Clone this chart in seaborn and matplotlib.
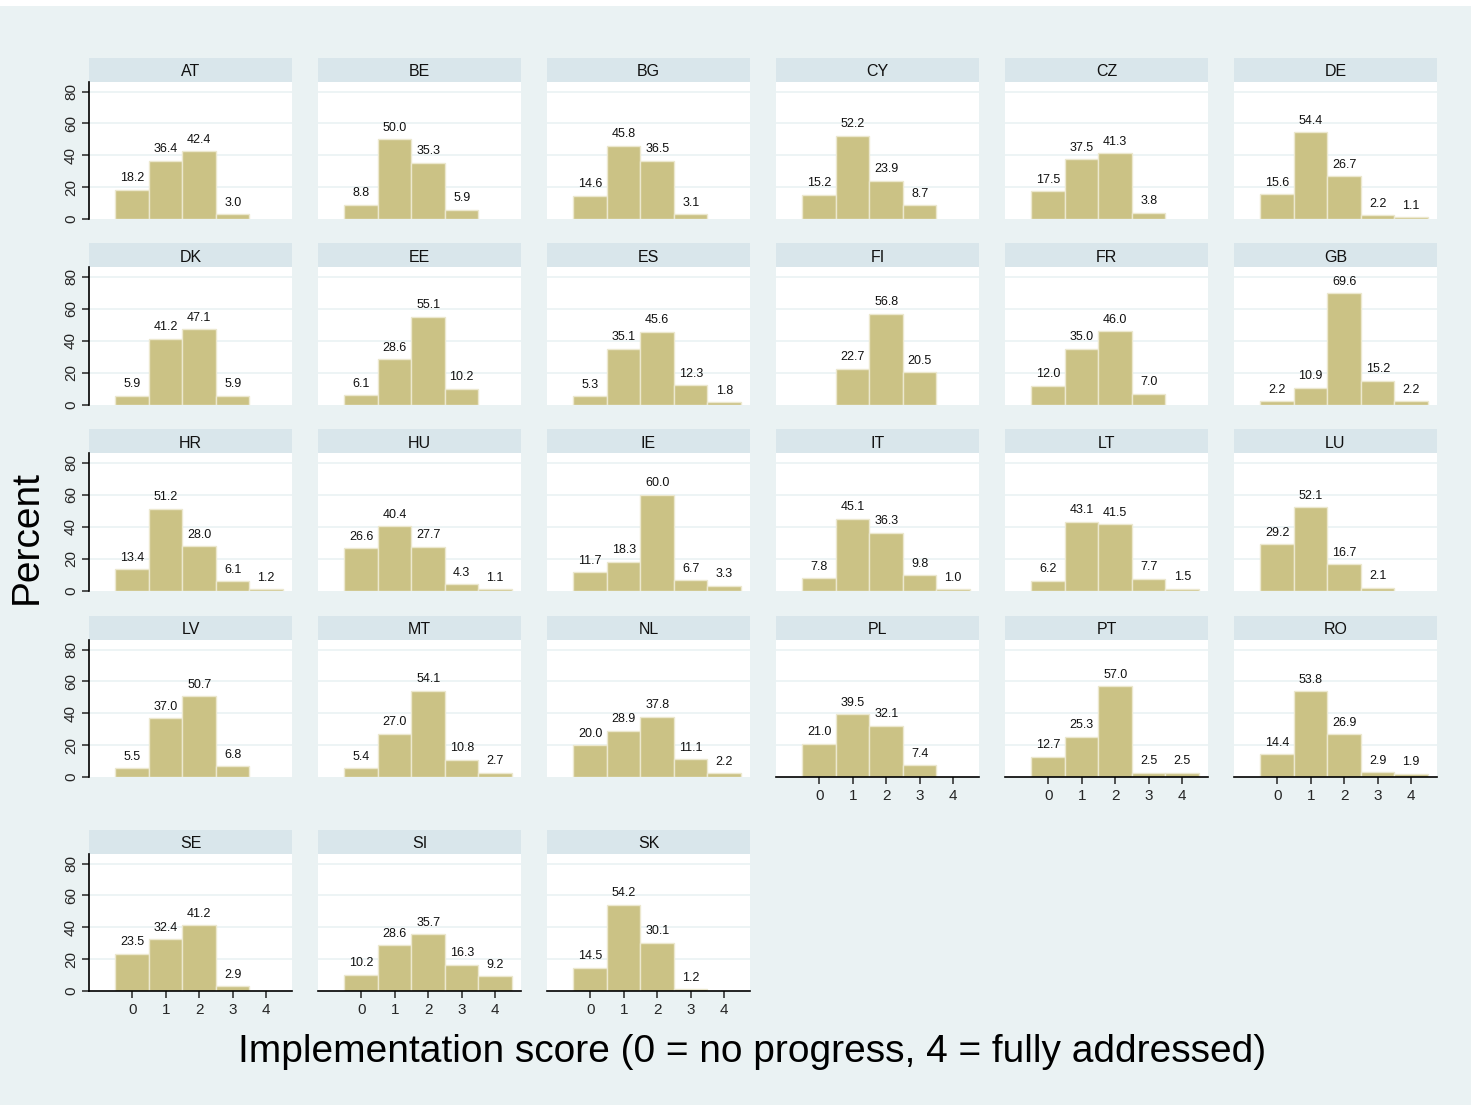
import matplotlib
matplotlib.use("Agg")
import matplotlib.pyplot as plt
from matplotlib.patches import Rectangle
import seaborn as sns

# --- data: percent of recommendations per implementation score (0..4), None = no bar ---
COUNTRIES = ["AT", "BE", "BG", "CY", "CZ", "DE",
             "DK", "EE", "ES", "FI", "FR", "GB",
             "HR", "HU", "IE", "IT", "LT", "LU",
             "LV", "MT", "NL", "PL", "PT", "RO",
             "SE", "SI", "SK"]
SCORES = [0, 1, 2, 3, 4]

AT = [18.2, 36.4, 42.4, 3.0, None]
BE = [8.8, 50.0, 35.3, 5.9, None]
BG = [14.6, 45.8, 36.5, 3.1, None]
CY = [15.2, 52.2, 23.9, 8.7, None]
CZ = [17.5, 37.5, 41.3, 3.8, None]
DE = [15.6, 54.4, 26.7, 2.2, 1.1]
DK = [5.9, 41.2, 47.1, 5.9, None]
EE = [6.1, 28.6, 55.1, 10.2, None]
ES = [5.3, 35.1, 45.6, 12.3, 1.8]
FI = [None, 22.7, 56.8, 20.5, None]
FR = [12.0, 35.0, 46.0, 7.0, None]
GB = [2.2, 10.9, 69.6, 15.2, 2.2]
HR = [13.4, 51.2, 28.0, 6.1, 1.2]
HU = [26.6, 40.4, 27.7, 4.3, 1.1]
IE = [11.7, 18.3, 60.0, 6.7, 3.3]
IT = [7.8, 45.1, 36.3, 9.8, 1.0]
LT = [6.2, 43.1, 41.5, 7.7, 1.5]
LU = [29.2, 52.1, 16.7, 2.1, None]
LV = [5.5, 37.0, 50.7, 6.8, None]
MT = [5.4, 27.0, 54.1, 10.8, 2.7]
NL = [20.0, 28.9, 37.8, 11.1, 2.2]
PL = [21.0, 39.5, 32.1, 7.4, None]
PT = [12.7, 25.3, 57.0, 2.5, 2.5]
RO = [14.4, 53.8, 26.9, 2.9, 1.9]
SE = [23.5, 32.4, 41.2, 2.9, None]
SI = [10.2, 28.6, 35.7, 16.3, 9.2]
SK = [14.5, 54.2, 30.1, 1.2, None]

VALUES = [AT, BE, BG, CY, CZ, DE, DK, EE, ES, FI, FR, GB, HR, HU, IE,
          IT, LT, LU, LV, MT, NL, PL, PT, RO, SE, SI, SK]

Y_TICKS = [0, 20, 40, 60, 80]

# --- style ---
BG_COL = "#eaf2f3"
STRIP_COL = "#d9e6eb"
BAR_COL = "#cbc285"
EDGE_COL = "#ece8cf"

W, H = 1471, 1105
COL_LEFT = [89, 318, 547, 776, 1005, 1234]
PANEL_W = 203
ROW_BOX = [(82, 219), (267, 405), (453, 591), (640, 777), (854, 991)]
STRIP_H = 24

sns.set_style("white")
plt.rcParams["font.family"] = ["Liberation Sans", "DejaVu Sans"]

fig = plt.figure(figsize=(W / 100, H / 100), dpi=100)
fig.patch.set_facecolor(BG_COL)
fig.patches.append(Rectangle((0, 1 - 6 / H), 1, 6 / H, transform=fig.transFigure,
                             facecolor="white", edgecolor="none", zorder=0))

# panels that carry the x axis (bottom of their column)
x_axis_panels = {"PL", "PT", "RO", "SE", "SI", "SK"}

for i, (name, vals) in enumerate(zip(COUNTRIES, VALUES)):
    r, c = divmod(i, 6)
    top, bot = ROW_BOX[r]
    ax = fig.add_axes([COL_LEFT[c] / W, 1 - bot / H, PANEL_W / W, (bot - top) / H])
    ax.set_facecolor("white")

    xs = [s for s, v in zip(SCORES, vals) if v is not None]
    ws = [v for v in vals if v is not None]
    sns.histplot(x=xs, weights=ws, discrete=True, ax=ax, color=BAR_COL,
                 edgecolor=EDGE_COL, linewidth=1, alpha=1, zorder=2)
    for s, v in zip(xs, ws):
        ax.annotate(f"{v:.1f}", (s, v), xytext=(0, 4), textcoords="offset points",
                    ha="center", va="bottom", fontsize=9, color="#111111", zorder=3)

    ax.set_xlim(-1.29, 4.77)
    ax.set_ylim(0, 86)
    ax.set_yticks(Y_TICKS)
    ax.set_xticks(SCORES)
    for y in Y_TICKS[1:]:
        ax.axhline(y, color=BG_COL, linewidth=1.2, zorder=1)
    ax.set_xlabel("")
    ax.set_ylabel("")

    for side in ["top", "right"]:
        ax.spines[side].set_visible(False)

    if c == 0:
        ax.spines["left"].set_visible(True)
        ax.spines["left"].set_color("black")
        ax.spines["left"].set_linewidth(1.2)
        ax.tick_params(axis="y", left=True, direction="out", length=5, width=1.1,
                       labelsize=11, pad=3)
        for lab in ax.get_yticklabels():
            lab.set_rotation(90)
            lab.set_va("center")
    else:
        ax.spines["left"].set_visible(False)
        ax.tick_params(axis="y", left=False, labelleft=False)

    if name in x_axis_panels:
        ax.spines["bottom"].set_visible(True)
        ax.spines["bottom"].set_color("black")
        ax.spines["bottom"].set_linewidth(1.2)
        ax.tick_params(axis="x", bottom=True, direction="out", length=5, width=1.1,
                       labelsize=11, pad=4)
    else:
        ax.spines["bottom"].set_visible(False)
        ax.tick_params(axis="x", bottom=False, labelbottom=False)

    # strip title
    ph = bot - top
    sh = STRIP_H / ph
    ax.add_patch(Rectangle((0, 1), 1, sh, transform=ax.transAxes, clip_on=False,
                           facecolor=STRIP_COL, edgecolor="none"))
    ax.text(0.5, 1 + (STRIP_H / 2 - 2) / ph, name, transform=ax.transAxes,
            ha="center", va="center", fontsize=11.5, color="#111111")

fig.text(27 / W, 1 - 537 / H, "Percent", rotation=90, ha="center", va="center",
         fontsize=28, color="black")
fig.text(752 / W, 1 - 1052 / H, "Implementation score (0 = no progress, 4 = fully addressed)",
         ha="center", va="center", fontsize=28, color="black")

fig.savefig("out.png", dpi=100, facecolor=fig.get_facecolor())
